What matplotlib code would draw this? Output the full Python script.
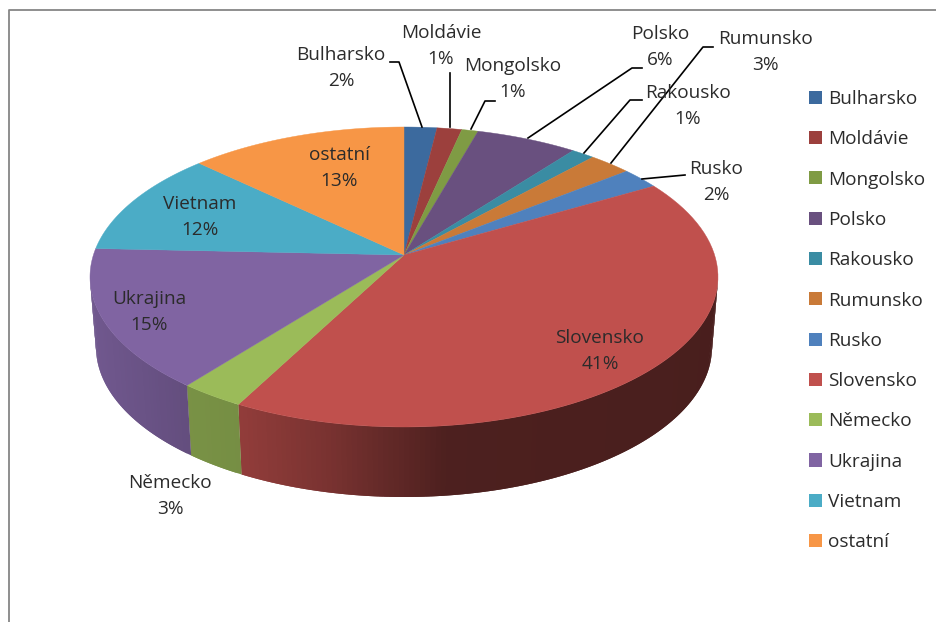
# 3D looking pie of shares per country, drawn in pixel coordinates
import numpy as np
import matplotlib
matplotlib.use('Agg')
import matplotlib.pyplot as plt
from matplotlib.patches import Patch

names = ['Bulharsko', 'Moldávie', 'Mongolsko', 'Polsko', 'Rakousko', 'Rumunsko',
         'Rusko', 'Slovensko', 'Německo', 'Ukrajina', 'Vietnam', 'ostatní']
# printed labels
pct_labels = ['2%', '1%', '1%', '6%', '1%', '3%', '2%', '41%', '3%', '15%', '12%', '13%']
# share of the rim as it looks on the tilted pie
shares = [1.68, 1.27, 0.84, 5.26, 1.22, 2.27, 2.1, 44.2, 3.3, 15.9, 10.65, 11.31]
colors = ['#3C6A9E', '#9C403D', '#7F9B44', '#69507F', '#3A8CA3', '#C97A38',
          '#4F81BD', '#C0504D', '#9BBB59', '#8064A2', '#4BACC6', '#F79646']

plt.rcParams['font.family'] = ['Open Sans', 'DejaVu Sans']
TEXT_COL = '#2b2b2b'

fig = plt.figure(figsize=(9.36, 6.22), dpi=100)
ax = fig.add_axes([0, 0, 1, 1])
ax.set_xlim(0, 936)
ax.set_ylim(622, 0)
ax.axis('off')

# outer frame, only top and left are in the picture
ax.plot([936, 9, 9], [10, 10, 622], color='#868686', linewidth=1.3)

# geometry of the top and bottom rim
apex = (404, 255)
cx, cy, rx, ry = 404, 277, 314, 150
cy_b, rx_b = 347, 308


def rim(theta, radx=rx, centy=cy):
    return cx + radx * np.sin(theta), centy - ry * np.cos(theta)


def shade(x):
    return np.interp(x, [90, 185, 240, 330, 450, 720],
                     [0.88, 0.78, 0.76, 0.63, 0.40, 0.38])


edges = np.cumsum([0] + shares) / sum(shares) * 2 * np.pi

# side wall, split in strips for the gradient, each one overlaps the next
# so no seams show between them
for i, col in enumerate(colors):
    lo = max(edges[i], np.pi / 2)
    hi = min(edges[i + 1], 3 * np.pi / 2)
    if hi <= lo:
        continue
    steps = np.linspace(lo, hi, max(3, int((hi - lo) * 60)))
    base = np.array(matplotlib.colors.to_rgb(col))
    for j in range(len(steps) - 1):
        a = steps[j]
        b = steps[min(j + 2, len(steps) - 1)]
        t = np.linspace(a, b, 6)
        xt, yt = rim(t)
        xb, yb = rim(t[::-1], rx_b, cy_b)
        c = base * shade(rim(steps[j])[0])
        ax.fill(np.r_[xt, xb], np.r_[yt, yb], color=c, linewidth=0)

# top face
for i, col in enumerate(colors):
    t = np.linspace(edges[i], edges[i + 1], 80)
    xs, ys = rim(t)
    ax.fill(np.r_[apex[0], xs], np.r_[apex[1], ys], color=col, linewidth=0.3)

# data labels, centre of the two line block
label_pos = [(341, 68), (441, 46), (513, 79), (660, 47), (688, 106), (765, 52),
             (716, 182), (600, 351), (170, 496), (149, 312), (200, 217), (339, 168)]
for name, pct, (lx, ly) in zip(names, pct_labels, label_pos):
    ax.text(lx, ly, name + '\n' + pct, ha='center', va='center', fontsize=13.7,
            color=TEXT_COL, linespacing=1.6)

# leader lines
leaders = [
    [(390, 62), (399, 62), (422, 127)],
    [(450, 73), (450, 127)],
    [(495, 101), (485, 101), (471, 129)],
    [(642, 68), (632, 68), (528, 138)],
    [(642, 100), (630, 100), (584, 153)],
    [(713, 47), (703, 47), (611, 163)],
    [(685, 175), (642, 179)],
]
for pts in leaders:
    ax.plot(*zip(*pts), color='black', linewidth=1.2)

handles = [Patch(facecolor=c, edgecolor='none') for c in colors]
ax.legend(handles, names, loc='upper left', bbox_to_anchor=(809 / 936, 1 - 90 / 622),
          frameon=False, fontsize=13.7, labelspacing=1.172, handlelength=0.68,
          handleheight=0.68, handletextpad=0.31, borderpad=0, borderaxespad=0,
          labelcolor=TEXT_COL)

fig.savefig('out.png', dpi=100)
